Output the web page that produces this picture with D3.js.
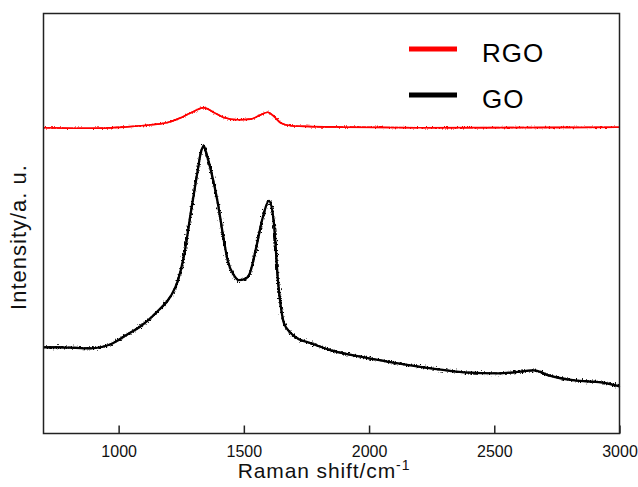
<!DOCTYPE html>
<html>
<head>
<meta charset="utf-8">
<script src="https://cdn.jsdelivr.net/npm/d3@7"></script>
<style>
  html, body { margin: 0; padding: 0; background: #fff; }
  svg { display: block; font-family: Arial, "Liberation Sans", sans-serif; }
</style>
</head>
<body>
<svg id="chart" width="638" height="487"></svg>
<script>
// Raman shift (cm^-1) and intensity (a.u.)
const goShift = [700, 768, 888, 968, 1036, 1088, 1156, 1208, 1236, 1260, 1288, 1316, 1328, 1340, 1352, 1368, 1396, 1420, 1436, 1460, 1480, 1504, 1524, 1548, 1576, 1600, 1620, 1636, 1648, 1660, 1688, 1720, 1756, 1848, 1980, 2116, 2248, 2380, 2516, 2580, 2660, 2716, 2820, 2928, 3000];
const goIntensity = [86, 86, 85, 89, 99, 107, 122, 137, 152, 176, 220, 263, 280, 287, 278, 263, 230, 193, 172, 158, 153, 154, 160, 184, 216, 232, 210, 153, 126, 110, 100, 94, 91, 83, 76, 70, 65, 61, 60, 61, 63, 58, 53, 51, 47];

const rgoShift = [700, 888, 1020, 1128, 1196, 1248, 1300, 1340, 1380, 1420, 1476, 1528, 1568, 1596, 1620, 1648, 1688, 1756, 1888, 2200, 2600, 3000];
const rgoIntensity = [305, 304.5, 305.7, 308, 310.3, 315, 321.3, 325, 320.3, 315.3, 313, 313.7, 318, 320.5, 316.3, 309.7, 307, 306.3, 305.7, 305, 305.2, 305.5];

const xTicks = [1000, 1500, 2000, 2500, 3000];
const seriesNames = ["RGO", "GO"];
const seriesColors = ["#ff0000", "#000000"];

const svg = d3.select("#chart");
const m = { left: 43.5, right: 619.5, top: 13.5, bottom: 433.5 };

const x = d3.scaleLinear().domain([700, 3000]).range([m.left, m.right]);
const y = d3.scaleLinear().domain([0, 419]).range([m.bottom, m.top]);

// noise filters (visual texture of the raw spectra)
const defs = svg.append("defs");
function noiseFilter(id, seed, scale) {
  const f = defs.append("filter").attr("id", id)
    .attr("x", "-5%").attr("y", "-20%").attr("width", "110%").attr("height", "140%");
  f.append("feTurbulence").attr("type", "fractalNoise").attr("baseFrequency", "0.9 0.5")
    .attr("numOctaves", 2).attr("seed", seed).attr("result", "n");
  f.append("feDisplacementMap").attr("in", "SourceGraphic").attr("in2", "n")
    .attr("scale", scale).attr("xChannelSelector", "R").attr("yChannelSelector", "G");
}
noiseFilter("noiseBlack", 3, 6.5);
noiseFilter("noiseRed", 7, 3.5);

const line = d3.line().x(d => x(d[0])).y(d => y(d[1])).curve(d3.curveMonotoneX);

const goData = goShift.map((s, i) => [s, goIntensity[i]]);
const rgoData = rgoShift.map((s, i) => [s, rgoIntensity[i]]);

const plot = svg.append("g");
function drawSeries(data, color, core, fuzz, filterId) {
  plot.append("path").datum(data).attr("d", line)
    .attr("fill", "none").attr("stroke", color).attr("stroke-width", core);
  plot.append("path").datum(data).attr("d", line)
    .attr("fill", "none").attr("stroke", color).attr("stroke-width", fuzz)
    .attr("filter", `url(#${filterId})`);
}
drawSeries(rgoData, seriesColors[0], 1.7, 1.5, "noiseRed");
drawSeries(goData, seriesColors[1], 2.3, 1.9, "noiseBlack");

// frame
svg.append("rect").attr("x", m.left).attr("y", m.top)
  .attr("width", m.right - m.left).attr("height", m.bottom - m.top)
  .attr("fill", "none").attr("stroke", "#222").attr("stroke-width", 1.5);

// x axis with inward ticks
const xAxis = svg.append("g").attr("transform", `translate(0,${m.bottom})`)
  .call(d3.axisBottom(x).tickValues(xTicks).tickSizeInner(-8).tickSizeOuter(0).tickPadding(12).tickFormat(d3.format("d")));
xAxis.select(".domain").remove();
xAxis.selectAll(".tick line").attr("stroke", "#222").attr("stroke-width", 1.5);
xAxis.selectAll(".tick text").attr("font-size", 16).attr("fill", "#111")
  .attr("font-family", "Arial, 'Liberation Sans', sans-serif");

// axis titles
const xt = svg.append("text").attr("x", 324).attr("y", 478).attr("text-anchor", "middle")
  .attr("font-size", 21).attr("letter-spacing", 0.9).attr("fill", "#111");
xt.append("tspan").text("Raman shift/cm");
xt.append("tspan").attr("font-size", 14).attr("dy", -8).text("-1");

svg.append("text").attr("transform", "translate(26,237) rotate(-90)")
  .attr("text-anchor", "middle").attr("font-size", 22).attr("letter-spacing", 1)
  .attr("fill", "#111")
  .text("Intensity/a. u.");

// legend
const legendY = [49, 95];
seriesNames.forEach((name, i) => {
  svg.append("line").attr("x1", 409).attr("x2", 457)
    .attr("y1", legendY[i]).attr("y2", legendY[i])
    .attr("stroke", seriesColors[i]).attr("stroke-width", 5);
  svg.append("text").attr("x", 482).attr("y", legendY[i] + 13)
    .attr("font-size", 26).attr("letter-spacing", 1).attr("fill", "#000").text(name);
});
</script>
</body>
</html>
